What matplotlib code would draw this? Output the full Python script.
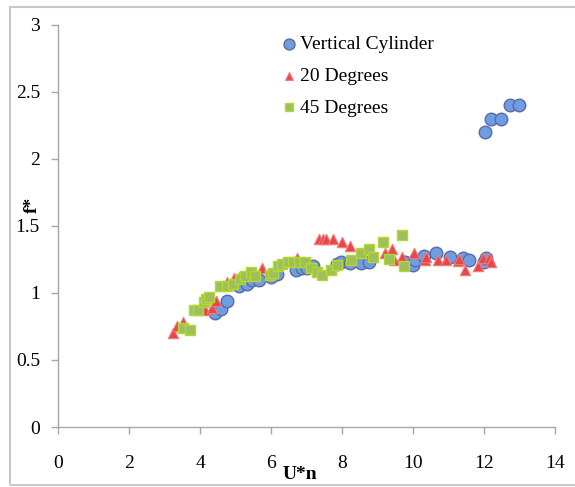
import matplotlib
matplotlib.use('Agg')
import matplotlib.pyplot as plt
from matplotlib.patches import Rectangle

plt.rcParams['font.family'] = ['Liberation Serif', 'DejaVu Serif']

# Vertical cylinder
cyl_x = [4.41, 4.59, 4.75, 5.10, 5.31, 5.47, 5.66, 6.01, 6.16, 6.71, 6.86, 7.00, 7.18,
         7.85, 7.97, 8.23, 8.54, 8.75, 9.78, 9.99, 10.05, 10.30, 10.64, 11.05, 11.41,
         11.59, 12.00, 12.05, 12.04, 12.19, 12.49, 12.73, 12.99]
cyl_y = [0.85, 0.88, 0.94, 1.05, 1.07, 1.10, 1.10, 1.12, 1.14, 1.175, 1.185, 1.19, 1.20,
         1.22, 1.23, 1.225, 1.225, 1.23, 1.23, 1.21, 1.245, 1.275, 1.30, 1.27, 1.258,
         1.245, 1.23, 1.26, 2.20, 2.30, 2.30, 2.40, 2.40]

# 20 degrees
d20_x = [3.25, 3.34, 3.52, 4.15, 4.33, 4.46, 4.77, 4.97, 5.13, 5.75, 6.21, 6.73,
         7.35, 7.46, 7.56, 7.75, 7.99, 8.23, 9.21, 9.40, 9.47, 9.68, 10.02, 10.33,
         10.37, 10.71, 10.92, 11.26, 11.30, 11.47, 11.83, 11.98, 12.13, 12.21]
d20_y = [0.70, 0.75, 0.785, 0.87, 0.885, 0.94, 1.08, 1.11, 1.13, 1.19, 1.22, 1.26,
         1.40, 1.40, 1.40, 1.40, 1.377, 1.35, 1.30, 1.33, 1.245, 1.27, 1.30, 1.245,
         1.27, 1.245, 1.245, 1.24, 1.25, 1.17, 1.20, 1.258, 1.258, 1.228]

# 45 degrees
d45_x = [3.53, 3.73, 3.82, 3.94, 4.10, 4.17, 4.25, 4.56, 4.75, 4.94, 5.13, 5.26,
         5.44, 5.54, 5.96, 6.06, 6.20, 6.32, 6.47, 6.63, 6.78, 6.97, 7.13, 7.30,
         7.44, 7.68, 7.87, 8.26, 8.54, 8.75, 8.88, 9.16, 9.32, 9.68, 9.76]
d45_y = [0.74, 0.723, 0.872, 0.872, 0.935, 0.955, 0.967, 1.05, 1.05, 1.07, 1.106, 1.126,
         1.158, 1.126, 1.138, 1.15, 1.20, 1.215, 1.233, 1.233, 1.233, 1.228, 1.183, 1.158,
         1.138, 1.175, 1.208, 1.245, 1.30, 1.325, 1.27, 1.377, 1.25, 1.432, 1.20]

fig = plt.figure(figsize=(5.75, 4.87), dpi=100)
ax = fig.add_axes([0.1009, 0.1232, 0.8643, 0.8255])

# grey frame round the chart
fig.patches.append(Rectangle((10 / 575, 2 / 487), 1.2, 478 / 487,
                             transform=fig.transFigure, fill=False,
                             edgecolor='#c8c8c8', linewidth=1.5))

ax.scatter(cyl_x, cyl_y, s=82, marker='o', facecolor='#6f9de2', edgecolor='#5a6aa6',
           linewidth=1.0, label='Vertical Cylinder', zorder=3)
ax.scatter(d20_x, d20_y, s=55, marker='^', facecolor='#e8474a', edgecolor='#f07a7a',
           linewidth=0.8, label='20 Degrees', zorder=4)
ax.scatter(d45_x, d45_y, s=58, marker='s', facecolor='#9fbf5f', edgecolor='#b3d92e',
           linewidth=1.0, label='45 Degrees', zorder=5)

ax.set_xlim(0, 14)
ax.set_ylim(0, 3)
ax.set_xticks(range(0, 15, 2))
ax.set_yticks([0, 0.5, 1, 1.5, 2, 2.5, 3])
ax.set_yticklabels(['0', '0.5', '1', '1.5', '2', '2.5', '3'])

for side in ['top', 'right']:
    ax.spines[side].set_visible(False)
for side in ['left', 'bottom']:
    ax.spines[side].set_color('#a6a6a6')
    ax.spines[side].set_linewidth(1.0)
ax.tick_params(axis='both', direction='out', length=5, width=1.0, color='#a6a6a6',
               labelsize=14)
ax.tick_params(axis='x', pad=15)
ax.tick_params(axis='y', pad=8)

ax.set_xlabel('U*n', fontsize=14, fontweight='bold')
ax.xaxis.set_label_coords(0.487, -0.096)
ax.set_ylabel('f*', fontsize=14, fontweight='bold')
ax.yaxis.set_label_coords(-0.034, 0.552)

leg = ax.legend(loc='upper left', bbox_to_anchor=(271 / 575, 1 - 26 / 487),
                bbox_transform=fig.transFigure, frameon=False, fontsize=14,
                borderpad=0, handlelength=0.8, handletextpad=0.2, labelspacing=0.72,
                scatterpoints=1)
leg.legend_handles[0].set_sizes([62])
leg.legend_handles[1].set_sizes([32])
leg.legend_handles[2].set_sizes([34])

fig.savefig('out.png', dpi=100)
